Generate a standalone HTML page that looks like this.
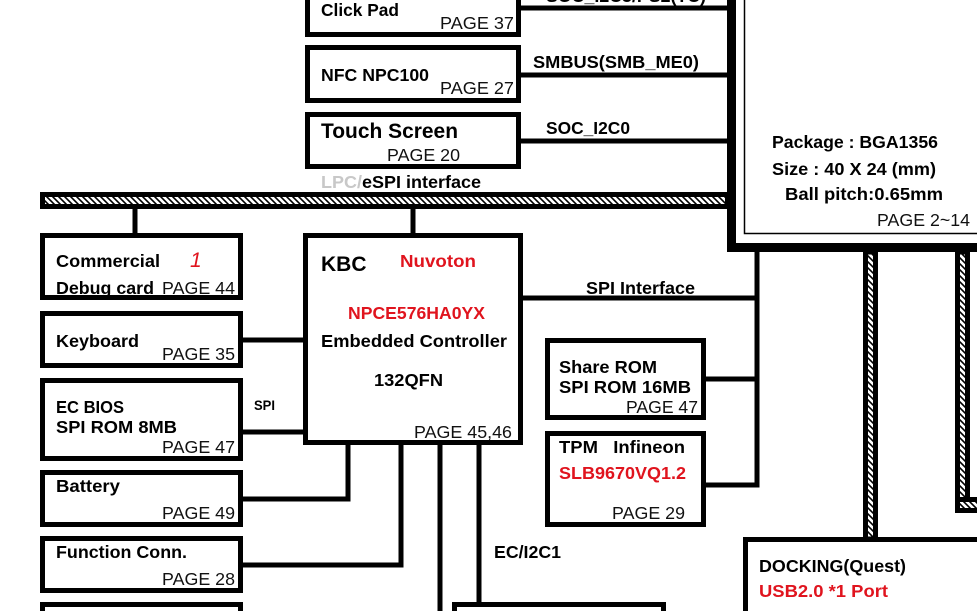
<!DOCTYPE html>
<html><head><meta charset="utf-8"><style>
html,body{margin:0;padding:0;background:#fff;}
svg{display:block;}
text{font-family:"Liberation Sans",Arial,sans-serif;}
.b{font-weight:bold;font-size:17.5px;fill:#000;}
.p{font-size:17.5px;fill:#111;}
.r{font-weight:bold;font-size:17.5px;fill:#e0141e;}
</style></head><body>
<svg width="977" height="611" viewBox="0 0 977 611" xmlns="http://www.w3.org/2000/svg">
<defs>
<pattern id="h" width="6" height="6" patternUnits="userSpaceOnUse">
<rect width="6" height="6" fill="#fff"/>
<path d="M-1,-1 L7,7 M-7,-1 L1,7 M5,-1 L13,7" stroke="#000" stroke-width="1.6"/>
</pattern>
</defs>
<g fill="none" stroke="#000" stroke-width="5">
<rect x="307.5" y="-8" width="211" height="42.5"/>
<rect x="307.5" y="47.5" width="211" height="53"/>
<rect x="307.5" y="114.5" width="211" height="52"/>
<rect x="42.5" y="235.5" width="198" height="62"/>
<rect x="305.5" y="235.5" width="215" height="207"/>
<rect x="42.5" y="313.5" width="198" height="52"/>
<rect x="42.5" y="380.5" width="198" height="78"/>
<rect x="42.5" y="472.5" width="198" height="52"/>
<rect x="42.5" y="538.5" width="198" height="52"/>
<rect x="42.5" y="604.5" width="198" height="30"/>
<rect x="547.5" y="340.5" width="156" height="77"/>
<rect x="547.5" y="433.5" width="156" height="91"/>
<rect x="454.5" y="604.5" width="209" height="30"/>
<rect x="745.5" y="539.5" width="260" height="90"/>
<path d="M521,8H729M521,75H729M521,141H729"/>
<path d="M135,209V235M413,209V235"/>
<path d="M243,340H305M243,432H305"/>
<path d="M243,499H348V443M243,565H401V443M440,443V611M479,443V604"/>
<path d="M521,298H757V250M757,298V485H706M706,379H757"/>
</g>
<path d="M731.5,-5V247.5H985" fill="none" stroke="#000" stroke-width="9"/>
<path d="M744.5,-5V233.5H985" fill="none" stroke="#000" stroke-width="1.5"/>
<rect x="42.5" y="194.5" width="685" height="12" fill="url(#h)" stroke="#000" stroke-width="5"/>
<rect x="865.5" y="252" width="10" height="287" fill="url(#h)" stroke="#000" stroke-width="5"/>
<rect x="957.5" y="252" width="10" height="258.5" fill="url(#h)" stroke="#000" stroke-width="5"/>
<rect x="957.5" y="499.5" width="30" height="11" fill="url(#h)" stroke="#000" stroke-width="5"/>

<text class="b" x="546" y="2" textLength="160" lengthAdjust="spacingAndGlyphs">SOC_I2C3/PS2(TC)</text>
<text class="b" x="321" y="16" textLength="78" lengthAdjust="spacingAndGlyphs">Click Pad</text>
<text class="p" x="440" y="29" textLength="74" lengthAdjust="spacingAndGlyphs">PAGE 37</text>
<text class="b" x="321" y="81" textLength="108" lengthAdjust="spacingAndGlyphs">NFC NPC100</text>
<text class="p" x="440" y="94" textLength="74" lengthAdjust="spacingAndGlyphs">PAGE 27</text>
<text class="b" x="533" y="68" textLength="166" lengthAdjust="spacingAndGlyphs">SMBUS(SMB_ME0)</text>
<text class="b" x="321" y="138" style="font-size:21px" textLength="137" lengthAdjust="spacingAndGlyphs">Touch Screen</text>
<text class="p" x="387" y="161" textLength="73" lengthAdjust="spacingAndGlyphs">PAGE 20</text>
<text class="b" x="546" y="134" textLength="84" lengthAdjust="spacingAndGlyphs">SOC_I2C0</text>
<text class="b" x="321" y="188" textLength="160" lengthAdjust="spacingAndGlyphs"><tspan fill="#c8c8c8">LPC/</tspan>eSPI interface</text>
<text class="b" x="772" y="148" textLength="166" lengthAdjust="spacingAndGlyphs">Package : BGA1356</text>
<text class="b" x="772" y="175" textLength="164" lengthAdjust="spacingAndGlyphs">Size : 40 X 24 (mm)</text>
<text class="b" x="785" y="200" textLength="158" lengthAdjust="spacingAndGlyphs">Ball pitch:0.65mm</text>
<text class="p" x="877" y="226" textLength="93" lengthAdjust="spacingAndGlyphs">PAGE 2~14</text>
<text class="b" x="56" y="267" textLength="104" lengthAdjust="spacingAndGlyphs">Commercial</text>
<text x="190" y="267" style="font-size:21px;font-style:italic;fill:#e0141e">1</text>
<text class="b" x="56" y="294" textLength="98" lengthAdjust="spacingAndGlyphs">Debug card</text>
<text class="p" x="162" y="294" textLength="73" lengthAdjust="spacingAndGlyphs">PAGE 44</text>
<text class="b" x="321" y="271" style="font-size:21px">KBC</text>
<text class="r" x="400" y="267" textLength="76" lengthAdjust="spacingAndGlyphs">Nuvoton</text>
<text class="r" x="348" y="319" textLength="137" lengthAdjust="spacingAndGlyphs">NPCE576HA0YX</text>
<text class="b" x="321" y="347" textLength="186" lengthAdjust="spacingAndGlyphs">Embedded Controller</text>
<text class="b" x="374" y="386" textLength="69" lengthAdjust="spacingAndGlyphs">132QFN</text>
<text class="p" x="414" y="438" textLength="98" lengthAdjust="spacingAndGlyphs">PAGE 45,46</text>
<text class="b" x="586" y="294" textLength="109" lengthAdjust="spacingAndGlyphs">SPI Interface</text>
<text class="b" x="56" y="347" textLength="83" lengthAdjust="spacingAndGlyphs">Keyboard</text>
<text class="p" x="162" y="360" textLength="73" lengthAdjust="spacingAndGlyphs">PAGE 35</text>
<text class="b" x="56" y="413" textLength="68" lengthAdjust="spacingAndGlyphs">EC BIOS</text>
<text class="b" x="56" y="433" textLength="121" lengthAdjust="spacingAndGlyphs">SPI ROM 8MB</text>
<text class="p" x="162" y="453" textLength="73" lengthAdjust="spacingAndGlyphs">PAGE 47</text>
<text class="b" x="254" y="410" style="font-size:14px" textLength="21" lengthAdjust="spacingAndGlyphs">SPI</text>
<text class="b" x="56" y="492" textLength="64" lengthAdjust="spacingAndGlyphs">Battery</text>
<text class="p" x="162" y="519" textLength="73" lengthAdjust="spacingAndGlyphs">PAGE 49</text>
<text class="b" x="56" y="558" textLength="131" lengthAdjust="spacingAndGlyphs">Function Conn.</text>
<text class="p" x="162" y="585" textLength="73" lengthAdjust="spacingAndGlyphs">PAGE 28</text>
<text class="b" x="559" y="373" textLength="98" lengthAdjust="spacingAndGlyphs">Share ROM</text>
<text class="b" x="559" y="393" textLength="132" lengthAdjust="spacingAndGlyphs">SPI ROM 16MB</text>
<text class="p" x="626" y="413" textLength="72" lengthAdjust="spacingAndGlyphs">PAGE 47</text>
<text class="b" x="559" y="453" textLength="126" lengthAdjust="spacingAndGlyphs" xml:space="preserve">TPM   Infineon</text>
<text class="r" x="559" y="479" textLength="127" lengthAdjust="spacingAndGlyphs">SLB9670VQ1.2</text>
<text class="p" x="612" y="519" textLength="73" lengthAdjust="spacingAndGlyphs">PAGE 29</text>
<text class="b" x="494" y="558" textLength="67" lengthAdjust="spacingAndGlyphs">EC/I2C1</text>
<text class="b" x="759" y="572" textLength="147" lengthAdjust="spacingAndGlyphs">DOCKING(Quest)</text>
<text class="r" x="759" y="597" textLength="129" lengthAdjust="spacingAndGlyphs">USB2.0 *1 Port</text>
</svg>
</body></html>
